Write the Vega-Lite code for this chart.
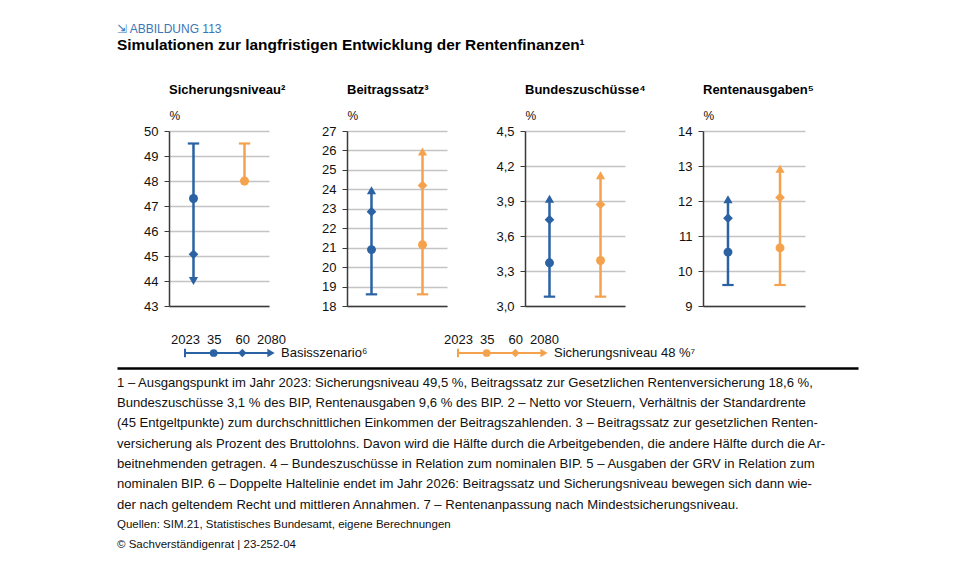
{
  "$schema": "https://vega.github.io/schema/vega-lite/v6.json",
  "background": "white",
  "padding": {"left": 117, "top": 22, "right": 5, "bottom": 5},
  "config": {
    "font": "Liberation Sans",
    "view": {"stroke": null},
    "locale": {"number": {"decimal": ",", "thousands": ".", "grouping": [3], "currency": ["", " €"]}},
    "axis": {"labelFont": "Liberation Sans", "titleFont": "Liberation Sans"}
  },
  "title": {
    "text": "⇲ ABBILDUNG 113",
    "subtitle": "Simulationen zur langfristigen Entwicklung der Rentenfinanzen¹",
    "anchor": "start",
    "font": "Liberation Sans",
    "fontSize": 12,
    "fontWeight": "normal",
    "color": "#3a76b6",
    "subtitleFont": "Liberation Sans",
    "subtitleFontSize": 15.4,
    "subtitleFontWeight": "bold",
    "subtitleColor": "#000000",
    "subtitlePadding": 2,
    "offset": 30
  },
  "datasets": {
    "pts": [
      {"panel": "Sicherungsniveau", "series": "Basisszenario", "y2023": 49.5, "y2035": 47.3, "y2060": 45.07, "y2080": 44.0},
      {"panel": "Sicherungsniveau", "series": "Sicherungsniveau 48 %", "y2023": 49.5, "y2035": 48.0, "y2060": 48.0, "y2080": 48.0},
      {"panel": "Beitragssatz", "series": "Basisszenario", "y2023": 18.6, "y2035": 20.9, "y2060": 22.85, "y2080": 23.95},
      {"panel": "Beitragssatz", "series": "Sicherungsniveau 48 %", "y2023": 18.6, "y2035": 21.15, "y2060": 24.2, "y2080": 25.95},
      {"panel": "Bundeszuschüsse", "series": "Basisszenario", "y2023": 3.08, "y2035": 3.37, "y2060": 3.74, "y2080": 3.92},
      {"panel": "Bundeszuschüsse", "series": "Sicherungsniveau 48 %", "y2023": 3.08, "y2035": 3.39, "y2060": 3.87, "y2080": 4.12},
      {"panel": "Rentenausgaben", "series": "Basisszenario", "y2023": 9.6, "y2035": 10.54, "y2060": 11.51, "y2080": 12.05},
      {"panel": "Rentenausgaben", "series": "Sicherungsniveau 48 %", "y2023": 9.6, "y2035": 10.66, "y2060": 12.1, "y2080": 12.92}
    ],
    "leg": [
      {"series": "Basisszenario", "label": "Basisszenario⁶", "year": "2023"},
      {"series": "Basisszenario", "label": "Basisszenario⁶", "year": "35"},
      {"series": "Basisszenario", "label": "Basisszenario⁶", "year": "60"},
      {"series": "Basisszenario", "label": "Basisszenario⁶", "year": "2080"},
      {"series": "Sicherungsniveau 48 %", "label": "Sicherungsniveau 48 %⁷", "year": "2023"},
      {"series": "Sicherungsniveau 48 %", "label": "Sicherungsniveau 48 %⁷", "year": "35"},
      {"series": "Sicherungsniveau 48 %", "label": "Sicherungsniveau 48 %⁷", "year": "60"},
      {"series": "Sicherungsniveau 48 %", "label": "Sicherungsniveau 48 %⁷", "year": "2080"}
    ],
    "notes": [
      {"n": 1, "t": "1 – Ausgangspunkt im Jahr 2023: Sicherungsniveau 49,5 %, Beitragssatz zur Gesetzlichen Rentenversicherung 18,6 %,"},
      {"n": 2, "t": "Bundeszuschüsse 3,1 % des BIP, Rentenausgaben 9,6 % des BIP.  2 – Netto vor Steuern, Verhältnis der Standardrente"},
      {"n": 3, "t": "(45 Entgeltpunkte) zum durchschnittlichen Einkommen der Beitragszahlenden.  3 – Beitragssatz zur gesetzlichen Renten-"},
      {"n": 4, "t": "versicherung als Prozent des Bruttolohns. Davon wird die Hälfte durch die Arbeitgebenden, die andere Hälfte durch die Ar-"},
      {"n": 5, "t": "beitnehmenden getragen.  4 – Bundeszuschüsse in Relation zum nominalen BIP.  5 – Ausgaben der GRV in Relation zum"},
      {"n": 6, "t": "nominalen BIP.  6 – Doppelte Haltelinie endet im Jahr 2026: Beitragssatz und Sicherungsniveau bewegen sich dann wie-"},
      {"n": 7, "t": "der nach geltendem Recht und mittleren Annahmen.  7 – Rentenanpassung nach Mindestsicherungsniveau."},
      {"n": 8, "t": "Quellen: SIM.21, Statistisches Bundesamt, eigene Berechnungen"},
      {"n": 9, "t": "© Sachverständigenrat | 23-252-04"}
    ]
  },
  "columns": 1,
  "spacing": 6,
  "concat": [
    {
      "spacing": 0,
      "hconcat": [
        {"width": 1, "height": 1, "data": {"values": []}, "mark": "point"},
        {
          "bounds": "flush",
          "spacing": 78,
          "hconcat": [
            {
              "width": 100, "height": 175,
              "data": {"name": "pts"},
              "title": {"text": "Sicherungsniveau²", "anchor": "start", "frame": "group", "offset": 12, "fontSize": 13, "fontWeight": "bold", "color": "#000"},
              "transform": [{"filter": "datum.panel === 'Sicherungsniveau'"}],
              "encoding": {
                "x": {"field": "series", "type": "nominal", "scale": {"type": "point", "padding": 0.48, "domain": ["Basisszenario", "Sicherungsniveau 48 %"]}, "axis": {"title": null, "labels": false, "ticks": false, "grid": false, "domainColor": "#3a3a3a", "domainWidth": 1.5}},
                "color": {"field": "series", "type": "nominal", "scale": {"domain": ["Basisszenario", "Sicherungsniveau 48 %"], "range": ["#2b62a3", "#f4a24d"]}, "legend": null}
              },
              "layer": [
                {"mark": {"type": "rule", "strokeWidth": 2.5}, "encoding": {"y": {"field": "y2023", "type": "quantitative", "title": "%", "scale": {"domain": [43, 50], "nice": false, "zero": false}, "axis": {"values": [43, 44, 45, 46, 47, 48, 49, 50], "tickCount": 20, "format": "d", "titleAngle": 0, "titleX": 0, "titleY": -9, "titleAlign": "left", "titleBaseline": "bottom", "titleFontWeight": "normal", "titleFontSize": 12, "titleColor": "#111", "labelFontSize": 13, "labelColor": "#111", "labelPadding": 6, "tickSize": 5, "tickColor": "#3a3a3a", "domainColor": "#3a3a3a", "domainWidth": 1.5, "gridColor": "#c4c4c4", "gridWidth": 1.5, "minExtent": 51, "maxExtent": 51}}, "y2": {"field": "y2080"}}},
                {"mark": {"type": "point", "shape": "M-1,0L1,0", "filled": false, "strokeWidth": 2.2, "size": 130, "opacity": 1}, "encoding": {"y": {"field": "y2023", "type": "quantitative", "title": "%"}}},
                {"mark": {"type": "point", "shape": "circle", "filled": true, "size": 80, "opacity": 1}, "encoding": {"y": {"field": "y2035", "type": "quantitative", "title": "%"}}},
                {"mark": {"type": "point", "shape": "diamond", "filled": true, "size": 95, "opacity": 1}, "encoding": {"y": {"field": "y2060", "type": "quantitative", "title": "%"}}},
                {"transform": [{"filter": "datum.y2080 > datum.y2060"}], "mark": {"type": "point", "shape": "triangle-up", "filled": true, "size": 85, "opacity": 1}, "encoding": {"y": {"field": "y2080", "type": "quantitative", "title": "%"}}},
                {"transform": [{"filter": "datum.y2080 < datum.y2060"}], "mark": {"type": "point", "shape": "triangle-down", "filled": true, "size": 85, "opacity": 1}, "encoding": {"y": {"field": "y2080", "type": "quantitative", "title": "%"}}}
              ]
            },
            {
              "width": 100, "height": 175,
              "data": {"name": "pts"},
              "title": {"text": "Beitragssatz³", "anchor": "start", "frame": "group", "offset": 12, "fontSize": 13, "fontWeight": "bold", "color": "#000"},
              "transform": [{"filter": "datum.panel === 'Beitragssatz'"}],
              "encoding": {
                "x": {"field": "series", "type": "nominal", "scale": {"type": "point", "padding": 0.48, "domain": ["Basisszenario", "Sicherungsniveau 48 %"]}, "axis": {"title": null, "labels": false, "ticks": false, "grid": false, "domainColor": "#3a3a3a", "domainWidth": 1.5}},
                "color": {"field": "series", "type": "nominal", "scale": {"domain": ["Basisszenario", "Sicherungsniveau 48 %"], "range": ["#2b62a3", "#f4a24d"]}, "legend": null}
              },
              "layer": [
                {"mark": {"type": "rule", "strokeWidth": 2.5}, "encoding": {"y": {"field": "y2023", "type": "quantitative", "title": "%", "scale": {"domain": [18, 27], "nice": false, "zero": false}, "axis": {"values": [18, 19, 20, 21, 22, 23, 24, 25, 26, 27], "tickCount": 20, "format": "d", "titleAngle": 0, "titleX": 0, "titleY": -9, "titleAlign": "left", "titleBaseline": "bottom", "titleFontWeight": "normal", "titleFontSize": 12, "titleColor": "#111", "labelFontSize": 13, "labelColor": "#111", "labelPadding": 6, "tickSize": 5, "tickColor": "#3a3a3a", "domainColor": "#3a3a3a", "domainWidth": 1.5, "gridColor": "#c4c4c4", "gridWidth": 1.5, "minExtent": 30, "maxExtent": 30}}, "y2": {"field": "y2080"}}},
                {"mark": {"type": "point", "shape": "M-1,0L1,0", "filled": false, "strokeWidth": 2.2, "size": 130, "opacity": 1}, "encoding": {"y": {"field": "y2023", "type": "quantitative", "title": "%"}}},
                {"mark": {"type": "point", "shape": "circle", "filled": true, "size": 80, "opacity": 1}, "encoding": {"y": {"field": "y2035", "type": "quantitative", "title": "%"}}},
                {"mark": {"type": "point", "shape": "diamond", "filled": true, "size": 95, "opacity": 1}, "encoding": {"y": {"field": "y2060", "type": "quantitative", "title": "%"}}},
                {"transform": [{"filter": "datum.y2080 > datum.y2060"}], "mark": {"type": "point", "shape": "triangle-up", "filled": true, "size": 85, "opacity": 1}, "encoding": {"y": {"field": "y2080", "type": "quantitative", "title": "%"}}},
                {"transform": [{"filter": "datum.y2080 < datum.y2060"}], "mark": {"type": "point", "shape": "triangle-down", "filled": true, "size": 85, "opacity": 1}, "encoding": {"y": {"field": "y2080", "type": "quantitative", "title": "%"}}}
              ]
            },
            {
              "width": 100, "height": 175,
              "data": {"name": "pts"},
              "title": {"text": "Bundeszuschüsse⁴", "anchor": "start", "frame": "group", "offset": 12, "fontSize": 13, "fontWeight": "bold", "color": "#000"},
              "transform": [{"filter": "datum.panel === 'Bundeszuschüsse'"}],
              "encoding": {
                "x": {"field": "series", "type": "nominal", "scale": {"type": "point", "padding": 0.48, "domain": ["Basisszenario", "Sicherungsniveau 48 %"]}, "axis": {"title": null, "labels": false, "ticks": false, "grid": false, "domainColor": "#3a3a3a", "domainWidth": 1.5}},
                "color": {"field": "series", "type": "nominal", "scale": {"domain": ["Basisszenario", "Sicherungsniveau 48 %"], "range": ["#2b62a3", "#f4a24d"]}, "legend": null}
              },
              "layer": [
                {"mark": {"type": "rule", "strokeWidth": 2.5}, "encoding": {"y": {"field": "y2023", "type": "quantitative", "title": "%", "scale": {"domain": [3.0, 4.5], "nice": false, "zero": false}, "axis": {"values": [3.0, 3.3, 3.6, 3.9, 4.2, 4.5], "tickCount": 20, "format": ".1f", "titleAngle": 0, "titleX": 0, "titleY": -9, "titleAlign": "left", "titleBaseline": "bottom", "titleFontWeight": "normal", "titleFontSize": 12, "titleColor": "#111", "labelFontSize": 13, "labelColor": "#111", "labelPadding": 6, "tickSize": 5, "tickColor": "#3a3a3a", "domainColor": "#3a3a3a", "domainWidth": 1.5, "gridColor": "#c4c4c4", "gridWidth": 1.5, "minExtent": 33, "maxExtent": 33}}, "y2": {"field": "y2080"}}},
                {"mark": {"type": "point", "shape": "M-1,0L1,0", "filled": false, "strokeWidth": 2.2, "size": 130, "opacity": 1}, "encoding": {"y": {"field": "y2023", "type": "quantitative", "title": "%"}}},
                {"mark": {"type": "point", "shape": "circle", "filled": true, "size": 80, "opacity": 1}, "encoding": {"y": {"field": "y2035", "type": "quantitative", "title": "%"}}},
                {"mark": {"type": "point", "shape": "diamond", "filled": true, "size": 95, "opacity": 1}, "encoding": {"y": {"field": "y2060", "type": "quantitative", "title": "%"}}},
                {"transform": [{"filter": "datum.y2080 > datum.y2060"}], "mark": {"type": "point", "shape": "triangle-up", "filled": true, "size": 85, "opacity": 1}, "encoding": {"y": {"field": "y2080", "type": "quantitative", "title": "%"}}},
                {"transform": [{"filter": "datum.y2080 < datum.y2060"}], "mark": {"type": "point", "shape": "triangle-down", "filled": true, "size": 85, "opacity": 1}, "encoding": {"y": {"field": "y2080", "type": "quantitative", "title": "%"}}}
              ]
            },
            {
              "width": 102, "height": 175,
              "data": {"name": "pts"},
              "title": {"text": "Rentenausgaben⁵", "anchor": "start", "frame": "group", "offset": 12, "fontSize": 13, "fontWeight": "bold", "color": "#000"},
              "transform": [{"filter": "datum.panel === 'Rentenausgaben'"}],
              "encoding": {
                "x": {"field": "series", "type": "nominal", "scale": {"type": "point", "padding": 0.48, "domain": ["Basisszenario", "Sicherungsniveau 48 %"]}, "axis": {"title": null, "labels": false, "ticks": false, "grid": false, "domainColor": "#3a3a3a", "domainWidth": 1.5}},
                "color": {"field": "series", "type": "nominal", "scale": {"domain": ["Basisszenario", "Sicherungsniveau 48 %"], "range": ["#2b62a3", "#f4a24d"]}, "legend": null}
              },
              "layer": [
                {"mark": {"type": "rule", "strokeWidth": 2.5}, "encoding": {"y": {"field": "y2023", "type": "quantitative", "title": "%", "scale": {"domain": [9, 14], "nice": false, "zero": false}, "axis": {"values": [9, 10, 11, 12, 13, 14], "tickCount": 20, "format": "d", "titleAngle": 0, "titleX": 0, "titleY": -9, "titleAlign": "left", "titleBaseline": "bottom", "titleFontWeight": "normal", "titleFontSize": 12, "titleColor": "#111", "labelFontSize": 13, "labelColor": "#111", "labelPadding": 6, "tickSize": 5, "tickColor": "#3a3a3a", "domainColor": "#3a3a3a", "domainWidth": 1.5, "gridColor": "#c4c4c4", "gridWidth": 1.5, "minExtent": 25, "maxExtent": 25}}, "y2": {"field": "y2080"}}},
                {"mark": {"type": "point", "shape": "M-1,0L1,0", "filled": false, "strokeWidth": 2.2, "size": 130, "opacity": 1}, "encoding": {"y": {"field": "y2023", "type": "quantitative", "title": "%"}}},
                {"mark": {"type": "point", "shape": "circle", "filled": true, "size": 80, "opacity": 1}, "encoding": {"y": {"field": "y2035", "type": "quantitative", "title": "%"}}},
                {"mark": {"type": "point", "shape": "diamond", "filled": true, "size": 95, "opacity": 1}, "encoding": {"y": {"field": "y2060", "type": "quantitative", "title": "%"}}},
                {"transform": [{"filter": "datum.y2080 > datum.y2060"}], "mark": {"type": "point", "shape": "triangle-up", "filled": true, "size": 85, "opacity": 1}, "encoding": {"y": {"field": "y2080", "type": "quantitative", "title": "%"}}},
                {"transform": [{"filter": "datum.y2080 < datum.y2060"}], "mark": {"type": "point", "shape": "triangle-down", "filled": true, "size": 85, "opacity": 1}, "encoding": {"y": {"field": "y2080", "type": "quantitative", "title": "%"}}}
              ]
            }
          ]
        }
      ]
    },
    {
      "spacing": 0,
      "hconcat": [
        {"width": 1, "height": 1, "data": {"values": []}, "mark": "point"},
        {
          "bounds": "flush",
          "spacing": 187,
          "hconcat": [
            {
              "width": 86, "height": 10,
              "data": {"name": "leg"},
              "transform": [{"filter": "datum.series === 'Basisszenario'"}],
              "encoding": {
                "x": {"field": "year", "type": "ordinal", "scale": {"type": "point", "padding": 0, "domain": ["2023", "35", "60", "2080"]}, "axis": {"orient": "top", "title": null, "domain": false, "ticks": false, "grid": false, "labelAngle": 0, "labelFontSize": 13, "labelColor": "#111", "labelPadding": 2, "minExtent": 29, "maxExtent": 29}},
                "y": {"datum": 0, "type": "quantitative", "scale": {"domain": [-1, 1]}, "axis": {"title": null, "labels": false, "ticks": false, "domain": false, "grid": false, "minExtent": 67, "maxExtent": 67}},
                "color": {"value": "#2b62a3"}
              },
              "layer": [
                {"transform": [{"filter": "datum.year === '2023'"}], "mark": {"type": "rule", "strokeWidth": 2}, "encoding": {"x2": {"datum": "2080"}}},
                {"transform": [{"filter": "datum.year === '2023'"}], "mark": {"type": "point", "shape": "M0,-1L0,1", "filled": false, "strokeWidth": 2, "size": 70, "opacity": 1}},
                {"transform": [{"filter": "datum.year === '35'"}], "mark": {"type": "point", "shape": "circle", "filled": true, "size": 60, "opacity": 1}},
                {"transform": [{"filter": "datum.year === '60'"}], "mark": {"type": "point", "shape": "diamond", "filled": true, "size": 70, "opacity": 1}},
                {"transform": [{"filter": "datum.year === '2080'"}], "mark": {"type": "point", "shape": "triangle-right", "filled": true, "size": 70, "opacity": 1}},
                {"transform": [{"filter": "datum.year === '2080'"}], "mark": {"type": "text", "align": "left", "baseline": "middle", "dx": 10, "fontSize": 13}, "encoding": {"text": {"field": "label"}, "color": {"value": "#111"}}}
              ]
            },
            {
              "width": 86, "height": 10,
              "data": {"name": "leg"},
              "transform": [{"filter": "datum.series === 'Sicherungsniveau 48 %'"}],
              "encoding": {
                "x": {"field": "year", "type": "ordinal", "scale": {"type": "point", "padding": 0, "domain": ["2023", "35", "60", "2080"]}, "axis": {"orient": "top", "title": null, "domain": false, "ticks": false, "grid": false, "labelAngle": 0, "labelFontSize": 13, "labelColor": "#111", "labelPadding": 2, "minExtent": 29, "maxExtent": 29}},
                "y": {"datum": 0, "type": "quantitative", "scale": {"domain": [-1, 1]}, "axis": null},
                "color": {"value": "#f4a24d"}
              },
              "layer": [
                {"transform": [{"filter": "datum.year === '2023'"}], "mark": {"type": "rule", "strokeWidth": 2}, "encoding": {"x2": {"datum": "2080"}}},
                {"transform": [{"filter": "datum.year === '2023'"}], "mark": {"type": "point", "shape": "M0,-1L0,1", "filled": false, "strokeWidth": 2, "size": 70, "opacity": 1}},
                {"transform": [{"filter": "datum.year === '35'"}], "mark": {"type": "point", "shape": "circle", "filled": true, "size": 60, "opacity": 1}},
                {"transform": [{"filter": "datum.year === '60'"}], "mark": {"type": "point", "shape": "diamond", "filled": true, "size": 70, "opacity": 1}},
                {"transform": [{"filter": "datum.year === '2080'"}], "mark": {"type": "point", "shape": "triangle-right", "filled": true, "size": 70, "opacity": 1}},
                {"transform": [{"filter": "datum.year === '2080'"}], "mark": {"type": "text", "align": "left", "baseline": "middle", "dx": 10, "fontSize": 13}, "encoding": {"text": {"field": "label"}, "color": {"value": "#111"}}}
              ]
            }
          ]
        }
      ]
    },
    {
      "width": 741, "height": 192,
      "data": {"name": "notes"},
      "mark": {"type": "text", "align": "left", "baseline": "middle", "color": "#111"},
      "encoding": {
        "x": {"datum": 0, "type": "quantitative", "scale": {"domain": [0, 1]}, "axis": {"orient": "top", "title": null, "labels": false, "ticks": false, "grid": false, "domain": true, "domainColor": "#000000", "domainWidth": 2.5, "minExtent": 0, "maxExtent": 0}},
        "y": {"field": "n", "type": "ordinal", "scale": {"type": "point", "padding": 0.74}, "axis": null},
        "text": {"field": "t"},
        "size": {"condition": {"test": "datum.n > 7", "value": 11.5}, "value": 13.1}
      }
    }
  ]
}
